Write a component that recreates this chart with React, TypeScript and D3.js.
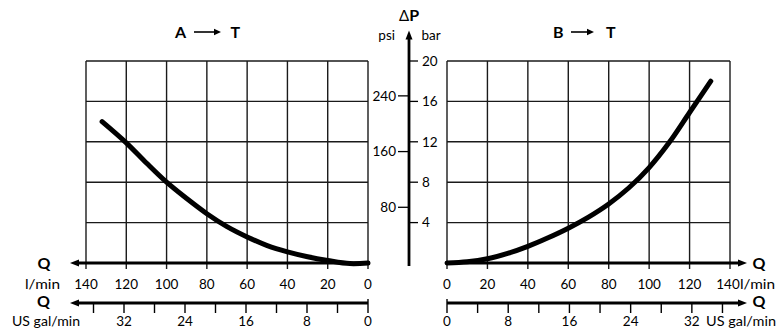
import React from "react";
import * as d3 from "d3";

// ---- data ----
const flowTicks = [0, 20, 40, 60, 80, 100, 120, 140];
const flowLabelTicks = [0, 20, 40, 60, 80, 100, 120, 140];
const barTicks = [0, 4, 8, 12, 16, 20];
const barLabelTicks = [4, 8, 12, 16, 20];
const psiTicks = [80, 160, 240];
const galTicks = [0, 4, 8, 12, 16, 20, 24, 28, 32, 36];
const galLabelTicks = [0, 8, 16, 24, 32];

// A -> T curve (flow l/min, pressure drop bar)
const flowAT = [0, 9, 20, 30, 40, 50, 60, 70, 80, 90, 100, 110, 120, 132];
const dpAT = [0, -0.06, 0.25, 0.62, 1.1, 1.72, 2.58, 3.6, 4.88, 6.38, 8.0, 9.9, 11.9, 14.0];

// B -> T curve
const flowBT = [0, 10, 20, 30, 40, 50, 60, 70, 80, 90, 100, 110, 120, 130.5];
const dpBT = [0, 0.12, 0.42, 0.95, 1.65, 2.5, 3.45, 4.55, 5.85, 7.45, 9.45, 11.95, 14.9, 18.0];

const BAR_PER_PSI = 1 / 14.5038;
const LPM_PER_GAL = 3.78541;

const FONT = "Lato, 'Open Sans', sans-serif";
const INK = "#000";
const GRID = "#1a1a1a";

export default function App() {
  const xL = d3.scaleLinear().domain([0, 140]).range([368, 86]);
  const xR = d3.scaleLinear().domain([0, 140]).range([447, 730]);
  const y = d3.scaleLinear().domain([0, 20]).range([263, 61]);

  const yAxisX = 409;
  const galY = 303;
  const fs = 13.5;
  const qfs = 16;

  const lineL = d3
    .line<number>()
    .x((_, i) => xL(flowAT[i]))
    .y((d) => y(d))
    .curve(d3.curveCatmullRom.alpha(0.5));
  const lineR = d3
    .line<number>()
    .x((_, i) => xR(flowBT[i]))
    .y((d) => y(d))
    .curve(d3.curveCatmullRom.alpha(0.5));

  const grid = (x: d3.ScaleLinear<number, number>, key: string) => (
    <g key={key}>
      {flowTicks.map((v) => (
        <line
          key={"v" + v}
          x1={x(v)}
          x2={x(v)}
          y1={y(20)}
          y2={y(0) + 6}
          stroke={GRID}
          strokeWidth={1.4}
        />
      ))}
      {barTicks
        .filter((b) => b > 0)
        .map((b) => (
          <line
            key={"h" + b}
            x1={x(140)}
            x2={x(0)}
            y1={y(b)}
            y2={y(b)}
            stroke={GRID}
            strokeWidth={1.4}
          />
        ))}
    </g>
  );

  const arrowHead = (tipX: number, tipY: number, dir: "left" | "right" | "up", len = 9, half = 3.6) => {
    let pts = "";
    if (dir === "left") pts = `${tipX},${tipY} ${tipX + len},${tipY - half} ${tipX + len},${tipY + half}`;
    if (dir === "right") pts = `${tipX},${tipY} ${tipX - len},${tipY - half} ${tipX - len},${tipY + half}`;
    if (dir === "up") pts = `${tipX},${tipY} ${tipX - half},${tipY + len} ${tipX + half},${tipY + len}`;
    return <polygon points={pts} fill={INK} />;
  };

  const title = (first: string, x0: number, arrowX1: number, arrowX2: number, tX: number) => (
    <g>
      <text x={x0} y={37.5} fontSize={qfs} fontWeight="bold" fontFamily={FONT}>
        {first}
      </text>
      <line x1={arrowX1} x2={arrowX2 - 5} y1={32} y2={32} stroke={INK} strokeWidth={1.6} />
      {arrowHead(arrowX2, 32, "right", 7, 3.2)}
      <text x={tX} y={37.5} fontSize={qfs} fontWeight="bold" fontFamily={FONT}>
        T
      </text>
    </g>
  );

  return (
    <svg
      width={781}
      height={333}
      style={{ position: "absolute", left: 0, top: 0, background: "#fff" }}
      fontFamily={FONT}
    >
      {title("A", 175, 194, 221, 230.5)}
      {title("B", 553, 571, 594, 606)}

      {grid(xL, "gl")}
      {grid(xR, "gr")}

      {/* central pressure axis */}
      <line x1={yAxisX} x2={yAxisX} y1={266} y2={36} stroke={INK} strokeWidth={2.8} />
      {arrowHead(yAxisX, 30.5, "up", 9, 3.5)}
      <text x={399} y={20.5} fontSize={15}>
        <tspan>Δ</tspan>
        <tspan fontWeight="bold" fontSize={16}>P</tspan>
      </text>
      <text x={395} y={39.5} fontSize={fs} textAnchor="end">
        psi
      </text>
      <text x={421.5} y={39.5} fontSize={fs}>
        bar
      </text>
      {psiTicks.map((p) => (
        <g key={"psi" + p}>
          <line
            x1={398}
            x2={yAxisX}
            y1={y(p * BAR_PER_PSI)}
            y2={y(p * BAR_PER_PSI)}
            stroke={INK}
            strokeWidth={1.3}
          />
          <text x={396} y={y(p * BAR_PER_PSI)} dy="0.36em" fontSize={fs} textAnchor="end">
            {p}
          </text>
        </g>
      ))}
      {barLabelTicks.map((b) => (
        <g key={"bar" + b}>
          <line x1={yAxisX} x2={418} y1={y(b)} y2={y(b)} stroke={INK} strokeWidth={1.3} />
          <text x={422} y={y(b)} dy="0.36em" fontSize={fs}>
            {b}
          </text>
        </g>
      ))}

      {/* left flow axis (l/min) */}
      <line x1={xL(0)} x2={76} y1={y(0)} y2={y(0)} stroke={INK} strokeWidth={2.8} />
      {arrowHead(70, y(0), "left", 9, 3.6)}
      <text x={37.5} y={268.5} fontSize={qfs} fontWeight="bold">
        Q
      </text>
      <text x={25} y={288.5} fontSize={fs} textLength={35} lengthAdjust="spacingAndGlyphs">
        l/min
      </text>
      {flowLabelTicks.map((v) => (
        <text key={"ll" + v} x={xL(v)} y={288.5} fontSize={fs} textAnchor="middle">
          {v}
        </text>
      ))}

      {/* right flow axis (l/min) */}
      <line x1={xR(0)} x2={741} y1={y(0)} y2={y(0)} stroke={INK} strokeWidth={2.8} />
      {arrowHead(747, y(0), "right", 9, 3.6)}
      <text x={752.5} y={268.5} fontSize={qfs} fontWeight="bold">
        Q
      </text>
      <text x={740} y={288.5} fontSize={fs} textLength={35} lengthAdjust="spacingAndGlyphs">
        l/min
      </text>
      {flowLabelTicks.map((v) => (
        <text
          key={"rl" + v}
          x={v === 140 ? xR(v) - 2 : xR(v)}
          y={288.5}
          fontSize={fs}
          textAnchor="middle"
        >
          {v}
        </text>
      ))}

      {/* left gallon axis */}
      <line x1={xL(0)} x2={76} y1={galY} y2={galY} stroke={INK} strokeWidth={2.8} />
      {arrowHead(70, galY, "left", 9, 3.6)}
      {galTicks.map((g) => (
        <line
          key={"lg" + g}
          x1={xL(g * LPM_PER_GAL)}
          x2={xL(g * LPM_PER_GAL)}
          y1={g === 0 ? galY - 4 : galY}
          y2={galY + 10}
          stroke={INK}
          strokeWidth={1.4}
        />
      ))}
      <text x={37} y={306.5} fontSize={qfs} fontWeight="bold">
        Q
      </text>
      <text x={12} y={325.5} fontSize={fs} textLength={68} lengthAdjust="spacingAndGlyphs">
        US gal/min
      </text>
      {galLabelTicks.map((g) => (
        <text key={"lgl" + g} x={xL(g * LPM_PER_GAL)} y={325.5} fontSize={fs} textAnchor="middle">
          {g}
        </text>
      ))}

      {/* right gallon axis */}
      <line x1={xR(0)} x2={741} y1={galY} y2={galY} stroke={INK} strokeWidth={2.8} />
      {arrowHead(747, galY, "right", 9, 3.6)}
      {galTicks.map((g) => (
        <line
          key={"rg" + g}
          x1={xR(g * LPM_PER_GAL)}
          x2={xR(g * LPM_PER_GAL)}
          y1={g === 0 ? galY - 4 : galY}
          y2={galY + 10}
          stroke={INK}
          strokeWidth={1.4}
        />
      ))}
      <text x={752.5} y={306.5} fontSize={qfs} fontWeight="bold">
        Q
      </text>
      <text x={706} y={325.5} fontSize={fs} textLength={70} lengthAdjust="spacingAndGlyphs">
        US gal/min
      </text>
      {galLabelTicks.map((g) => (
        <text key={"rgl" + g} x={xR(g * LPM_PER_GAL)} y={325.5} fontSize={fs} textAnchor="middle">
          {g}
        </text>
      ))}

      {/* curves */}
      <path
        d={lineL(dpAT) || ""}
        fill="none"
        stroke={INK}
        strokeWidth={5}
        strokeLinecap="round"
        strokeLinejoin="round"
      />
      <path
        d={lineR(dpBT) || ""}
        fill="none"
        stroke={INK}
        strokeWidth={5}
        strokeLinecap="round"
        strokeLinejoin="round"
      />
    </svg>
  );
}
